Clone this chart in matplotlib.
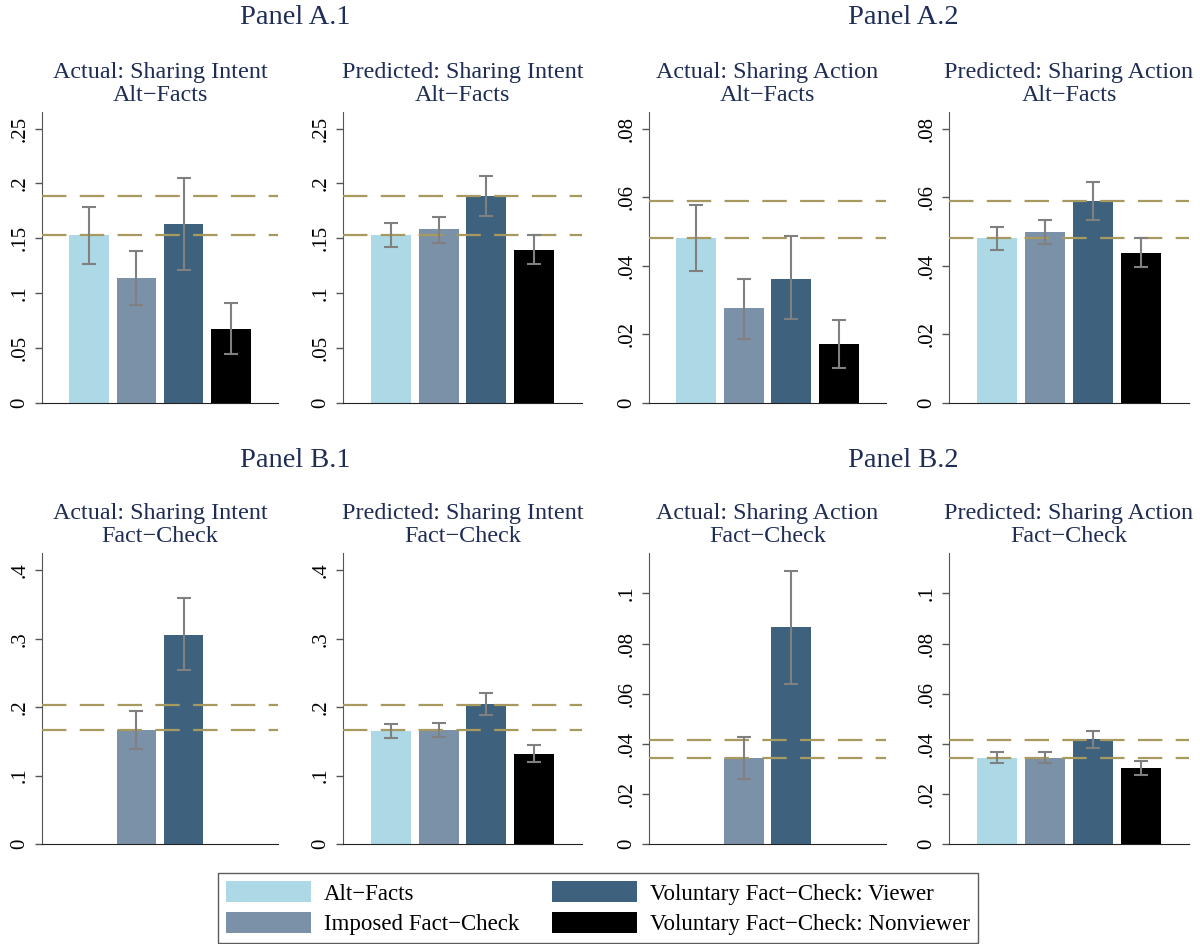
import matplotlib
matplotlib.use('Agg')
import matplotlib.pyplot as plt
from matplotlib.patches import Patch
import numpy as np

plt.rcParams['font.family'] = ['Liberation Serif', 'DejaVu Serif']

# Группы и цвета
groups = ['Alt−Facts', 'Imposed Fact−Check',
          'Voluntary Fact−Check: Viewer', 'Voluntary Fact−Check: Nonviewer']
colors = ['#add8e6', '#7b91a8', '#3e627d', '#000000']

# ---- данные, NaN = столбца нет ----
nan = np.nan
titles = ['Actual: Sharing Intent\nAlt−Facts', 'Predicted: Sharing Intent\nAlt−Facts',
          'Actual: Sharing Action\nAlt−Facts', 'Predicted: Sharing Action\nAlt−Facts',
          'Actual: Sharing Intent\nFact−Check', 'Predicted: Sharing Intent\nFact−Check',
          'Actual: Sharing Action\nFact−Check', 'Predicted: Sharing Action\nFact−Check']

means = [
    [0.1527, 0.1134, 0.1630, 0.0674],
    [0.1527, 0.1582, 0.1887, 0.1396],
    [0.0481, 0.0276, 0.0362, 0.0170],
    [0.0481, 0.0498, 0.0589, 0.0438],
    [nan, 0.1668, 0.3059, nan],
    [0.1659, 0.1668, 0.2049, 0.1322],
    [nan, 0.0343, 0.0864, nan],
    [0.0343, 0.0343, 0.0418, 0.0302],
]
ci_lo = [
    [0.1268, 0.0893, 0.1207, 0.0439],
    [0.1420, 0.1460, 0.1704, 0.1260],
    [0.0384, 0.0186, 0.0243, 0.0100],
    [0.0447, 0.0462, 0.0534, 0.0396],
    [nan, 0.1386, 0.2546, nan],
    [0.1551, 0.1570, 0.1893, 0.1200],
    [nan, 0.0261, 0.0638, nan],
    [0.0323, 0.0323, 0.0382, 0.0274],
]
ci_hi = [
    [0.1786, 0.1380, 0.2050, 0.0908],
    [0.1640, 0.1692, 0.2067, 0.1527],
    [0.0577, 0.0360, 0.0486, 0.0241],
    [0.0513, 0.0533, 0.0645, 0.0482],
    [nan, 0.1951, 0.3590, nan],
    [0.1751, 0.1771, 0.2205, 0.1444],
    [nan, 0.0427, 0.1090, nan],
    [0.0367, 0.0367, 0.0451, 0.0331],
]
# пунктирные линии (предсказанные уровни)
ref_lines = [
    [0.1527, 0.1887], [0.1527, 0.1887],
    [0.0481, 0.0590], [0.0481, 0.0590],
    [0.1668, 0.2034], [0.1668, 0.2034],
    [0.0343, 0.0415], [0.0343, 0.0415],
]
y_max = [0.2655, 0.2655, 0.085, 0.085, 0.425, 0.425, 0.116, 0.116]
ticks_int_a = [0, 0.05, 0.1, 0.15, 0.2, 0.25]
labels_int_a = ['0', '.05', '.1', '.15', '.2', '.25']
ticks_act_a = [0, 0.02, 0.04, 0.06, 0.08]
labels_act_a = ['0', '.02', '.04', '.06', '.08']
ticks_int_b = [0, 0.1, 0.2, 0.3, 0.4]
labels_int_b = ['0', '.1', '.2', '.3', '.4']
ticks_act_b = [0, 0.02, 0.04, 0.06, 0.08, 0.1]
labels_act_b = ['0', '.02', '.04', '.06', '.08', '.1']
yticks = [ticks_int_a, ticks_int_a, ticks_act_a, ticks_act_a,
          ticks_int_b, ticks_int_b, ticks_act_b, ticks_act_b]
yticklabels = [labels_int_a, labels_int_a, labels_act_a, labels_act_a,
               labels_int_b, labels_int_b, labels_act_b, labels_act_b]

W, H = 1200, 944
fig = plt.figure(figsize=(W / 100, H / 100), dpi=100)

col_px = [(42, 278), (343, 582), (649, 886), (949, 1189)]
row_px = [(111.7, 402.5), (553.3, 844)]
title_col = '#1f2d55'

x = np.arange(1, 5)
for i in range(8):
    r, c = divmod(i, 4)
    x0, x1 = col_px[c]
    t0, t1 = row_px[r]
    ax = fig.add_axes([x0 / W, 1 - t1 / H, (x1 - x0) / W, (t1 - t0) / H])

    m = np.array(means[i])
    lo = np.array(ci_lo[i])
    hi = np.array(ci_hi[i])
    ok = ~np.isnan(m)
    ax.bar(x[ok], m[ok], width=0.84, color=np.array(colors)[ok], zorder=2)
    for yv in ref_lines[i]:
        ax.axhline(yv, color='#a89a5e', lw=1.6, dashes=(11, 6), zorder=3)
    ax.errorbar(x[ok], m[ok], yerr=[m[ok] - lo[ok], hi[ok] - m[ok]], fmt='none',
                ecolor='#808080', elinewidth=1.5, capsize=5, capthick=1.5, zorder=4)

    ax.set_xlim(0, 5)
    ax.set_ylim(0, y_max[i])
    ax.set_xticks([])
    ax.set_yticks(yticks[i])
    ax.set_yticklabels(yticklabels[i], rotation=90, va='center', fontsize=15)
    ax.tick_params(axis='y', length=5, width=1, color='#555555', pad=4)
    ax.spines['top'].set_visible(False)
    ax.spines['right'].set_visible(False)
    ax.spines['left'].set_color('#555555')
    ax.spines['bottom'].set_color('#222222')
    ax.set_title(titles[i], fontsize=17.4, color=title_col, pad=8, linespacing=1.12)

# заголовки панелей
fig.text(295 / W, 1 - 18 / H, 'Panel A.1', ha='center', va='center', fontsize=20.5, color=title_col)
fig.text(903 / W, 1 - 18 / H, 'Panel A.2', ha='center', va='center', fontsize=20.5, color=title_col)
fig.text(295 / W, 1 - 460 / H, 'Panel B.1', ha='center', va='center', fontsize=20.5, color=title_col)
fig.text(903 / W, 1 - 460 / H, 'Panel B.2', ha='center', va='center', fontsize=20.5, color=title_col)

handles = [Patch(facecolor=col, edgecolor='none', label=g) for g, col in zip(groups, colors)]
leg = fig.legend(handles=handles, ncol=2, loc='lower center',
                 bbox_to_anchor=(598 / W, 1 / H), fontsize=16.5, frameon=True,
                 fancybox=False, edgecolor='#333333', handlelength=3.7,
                 handleheight=1.05, columnspacing=1.4, labelspacing=0.3,
                 borderpad=0.35, handletextpad=0.6, borderaxespad=0)
leg.get_frame().set_linewidth(1.0)

plt.savefig('out.png', dpi=100)
